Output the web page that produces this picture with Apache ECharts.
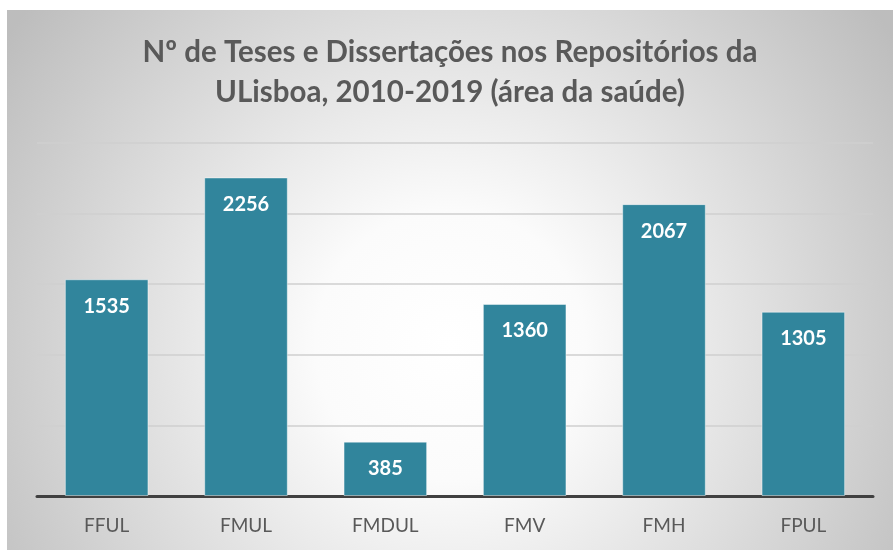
<!DOCTYPE html>
<html>
<head>
<meta charset="utf-8">
<script src="https://cdn.jsdelivr.net/npm/echarts@6/dist/echarts.min.js"></script>
<style>
  html, body { margin: 0; padding: 0; background: #fff; }
  #chart { position: absolute; left: 7px; top: 10px; width: 886px; height: 540px; }
</style>
</head>
<body>
<div id="chart"></div>
<script>
// dados
var categorias = ["FFUL", "FMUL", "FMDUL", "FMV", "FMH", "FPUL"];
var valores = [1535, 2256, 385, 1360, 2067, 1305];
var titulo = "Nº de Teses e Dissertações nos Repositórios da\nULisboa, 2010-2019 (área da saúde)";

var chart = echarts.init(document.getElementById("chart"));
chart.setOption({
  animation: false,
  backgroundColor: {
    type: "radial",
    x: 0.5, y: 0.62, r: 1.0,
    colorStops: [
      { offset: 0, color: "#ffffff" },
      { offset: 0.25, color: "#fbfbfb" },
      { offset: 1, color: "#bdbdbd" }
    ]
  },
  title: {
    text: titulo,
    left: "center",
    top: 17,
    textStyle: {
      fontFamily: "Lato",
      fontWeight: "bold",
      fontSize: 29.5,
      lineHeight: 40,
      color: "#595959"
    }
  },
  grid: { left: 30, right: 20, top: 133, bottom: 54 },
  xAxis: {
    type: "category",
    data: categorias,
    axisTick: { show: false },
    axisLine: { lineStyle: { color: "#404040", width: 3 } },
    axisLabel: { fontFamily: "Lato", fontSize: 19, color: "#595959", margin: 20 }
  },
  yAxis: {
    type: "value",
    min: 0,
    max: 2500,
    interval: 500,
    axisLabel: { show: false },
    axisLine: { show: false },
    axisTick: { show: false },
    splitLine: { lineStyle: { color: "#cfcfcf", width: 1.5 } }
  },
  series: [{
    type: "bar",
    data: valores,
    barCategoryGap: "40%",
    itemStyle: { color: "#31859c", borderColor: "rgba(255,255,255,0.45)", borderWidth: 1 },
    label: {
      show: true,
      position: "insideTop",
      distance: 17,
      fontFamily: "Lato",
      fontWeight: "bold",
      fontSize: 20,
      color: "#ffffff"
    }
  }]
});
</script>
</body>
</html>
